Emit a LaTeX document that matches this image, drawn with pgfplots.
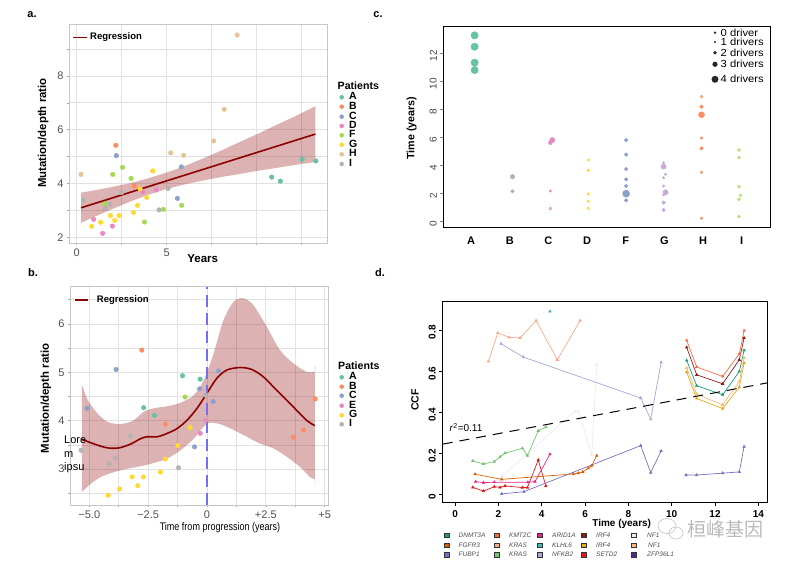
\documentclass[border=0pt]{standalone}
\usepackage{fontspec}
\setmainfont{Liberation Sans}
\newfontfamily\cjk{Noto Sans CJK SC}
\usepackage{pgfplots}
\pgfplotsset{compat=1.18}
\newcommand\fs[1]{\fontsize{#1}{#1}\selectfont}
\definecolor{pA}{HTML}{66C2A5}
\definecolor{pB}{HTML}{FC8D62}
\definecolor{pC}{HTML}{8DA0CB}
\definecolor{pD}{HTML}{E78AC3}
\definecolor{pE}{HTML}{E78AC3}
\definecolor{pF}{HTML}{A6D854}
\definecolor{pG}{HTML}{FFD92F}
\definecolor{pH}{HTML}{E5C494}
\definecolor{pI}{HTML}{B3B3B3}
\definecolor{cG}{HTML}{C8A8D8}
\definecolor{reg}{HTML}{8B0000}
\definecolor{tickgray}{HTML}{505050}
\definecolor{gridc}{HTML}{E2E2E2}
\definecolor{dDNMT}{HTML}{1B9E77}
\definecolor{dFGFR}{HTML}{D95F02}
\definecolor{dFUBP}{HTML}{7B6FC0}
\definecolor{dKMT}{HTML}{F46D43}
\definecolor{dKRASs}{HTML}{F9A98B}
\definecolor{dKRASg}{HTML}{74C476}
\definecolor{dARID}{HTML}{E7298A}
\definecolor{dKLHL}{HTML}{41B6C4}
\definecolor{dNFKB}{HTML}{A9A5D4}
\definecolor{dIRFr}{HTML}{8E1B1B}
\definecolor{dIRFg}{HTML}{E6A817}
\definecolor{dSETD}{HTML}{E31A1C}
\definecolor{dNFw}{HTML}{ECEAF6}
\definecolor{dNFo}{HTML}{FDB873}
\definecolor{dZFP}{HTML}{54278F}
\pgfplotsset{
  ptsA/.style={only marks, mark=*, mark size=2.3pt},
  ggaxis/.style={scale only axis, anchor=south west, grid=major,
    major grid style={draw=gridc, line width=0.8pt},
    axis line style={draw=gray!45, line width=0.8pt},
    tick style={draw=gray!70, line width=0.6pt}, tick align=outside, major tick length=2pt,
    tick pos=left,
    ticklabel style={font=\fs{11}, text=tickgray},
    /pgf/number format/assume math mode=true},
  cpts/.style={only marks, mark=*, mark size=#1},
  hpts/.style={only marks, mark=o, mark size=1.3pt, mark options={line width=0.7pt}},
  dl/.style={color=#1, line width=0.7pt, mark=triangle*, mark size=1.3pt, mark options={solid}},
}
\begin{document}
\begin{tikzpicture}
\path[use as bounding box] (0pt,0pt) rectangle (789pt,564pt);

% ---------------- panel a ----------------
\begin{axis}[ggaxis, at={(69pt,320.7pt)}, width=258pt, height=219.3pt,
  xmin=-0.43, xmax=13.9, ymin=1.78, ymax=9.93,
  xtick={0,2.5,5,7.5,10,12.5}, xticklabels={0,,5,,,},
  ytick={2,3,4,5,6,7,8,9}, yticklabels={2,,4,,6,,8,}]
\addplot[ptsA, pA] coordinates {(10.83,4.24)(11.31,4.09)(12.52,4.90)(13.28,4.84)};
\addplot[ptsA, pB] coordinates {(2.17,5.42)(3.20,3.91)};
\addplot[ptsA, pC] coordinates {(2.20,5.04)(5.59,3.45)(5.81,4.62)};
\addplot[ptsA, pD] coordinates {(0.94,2.67)(1.44,2.15)(1.98,2.42)(3.67,3.69)(4.41,3.76)};
\addplot[ptsA, pF] coordinates {(1.54,3.24)(2.00,4.34)(2.54,4.60)(3.02,4.19)(3.76,2.57)(4.81,3.04)(5.83,3.19)};
\addplot[ptsA, pG] coordinates {(0.83,2.41)(1.33,2.56)(1.87,2.81)(2.11,2.63)(2.35,2.81)(3.15,2.92)(3.37,3.19)(3.52,3.80)(3.89,3.48)(4.22,4.47)};
\addplot[ptsA, pH] coordinates {(0.24,4.34)(5.22,5.14)(5.94,5.05)(7.61,5.58)(8.19,6.76)(8.91,9.52)};
\addplot[ptsA, pI] coordinates {(0.37,3.38)(1.59,3.08)(1.85,3.23)(2.50,3.67)(4.57,3.02)(5.07,3.82)};
\addplot[fill=reg, fill opacity=0.3, draw=none] coordinates {(0.24,3.66)(1,3.75)(2,3.88)(3,4.02)(4,4.20)(5,4.41)(6,4.65)(7,4.93)(8,5.22)(9,5.53)(10,5.83)(11,6.15)(12,6.46)(13.26,6.88)
 (13.26,4.80)(12,4.68)(11,4.57)(10,4.47)(9,4.35)(8,4.24)(7,4.11)(6,3.97)(5,3.80)(4,3.59)(3,3.34)(2,3.06)(1,2.77)(0.24,2.54)} -- cycle;
\addplot[reg, line width=1.6pt] coordinates {(0.24,3.10)(13.26,5.84)};
\end{axis}

% ---------------- panel b ----------------
\begin{axis}[ggaxis, at={(70pt,59pt)}, width=258pt, height=218.3pt,
  xmin=-5.82, xmax=5.14, ymin=2.26, ymax=6.77,
  xtick={-5,-3.75,-2.5,-1.25,0,1.25,2.5,3.75,5}, xticklabels={−5.0\hspace{14pt},,−2.5,,0,,+2.5,,+5},
  ytick={2.5,3,3.5,4,4.5,5,5.5,6,6.5}, yticklabels={,3,,4,,5,,6,}]
\addplot[ptsA, pA] coordinates {(-2.69,4.27)(-2.23,4.11)(-1.04,4.93)(-0.29,4.86)};
\addplot[ptsA, pB] coordinates {(-2.77,5.46)(-1.77,3.93)(3.66,3.66)(4.10,3.81)(4.59,4.45)};
\addplot[ptsA, pC] coordinates {(-5.10,4.26)(-3.86,5.06)(-0.53,3.46)(-0.31,4.66)(0.26,4.40)(0.49,5.03)};
\addplot[ptsA, pE] coordinates {(-0.29,3.74)(-0.06,4.01)};
\addplot[ptsA, pF] coordinates {(-0.93,4.49)};
\addplot[ptsA, pG] coordinates {(-4.20,2.46)(-3.71,2.59)(-3.18,2.84)(-2.94,2.66)(-2.70,2.84)(-1.98,2.94)(-1.77,3.21)(-1.24,3.49)(-0.72,3.86)};
\addplot[ptsA, pI] coordinates {(-5.35,3.39)(-4.15,3.11)(-3.89,3.23)(-3.25,3.69)(-1.21,3.03)(-0.06,4.53)};
\addplot[fill=reg, fill opacity=0.3, draw=none, smooth] coordinates {(-5.32,4.76)(-5.07,4.43)(-4.65,4.15)(-4.23,3.98)(-3.73,3.93)(-3.24,3.98)(-2.96,4.07)(-2.68,4.19)(-2.25,4.26)(-1.69,4.30)(-1.13,4.37)(-0.56,4.53)(-0.14,4.84)(0.28,5.39)(0.70,6.08)(1.13,6.46)(1.55,6.53)(1.97,6.39)(2.54,5.94)(3.10,5.46)(3.66,5.19)(4.23,5.01)(4.58,5.01)(4.58,5.01)
 (4.58,2.79)(4.58,2.79)(4.37,2.84)(3.94,3.05)(3.38,3.26)(2.82,3.43)(2.25,3.53)(1.69,3.67)(1.13,3.81)(0.56,3.93)(0.14,3.96)(-0.14,3.88)(-0.56,3.63)(-1.13,3.39)(-1.69,3.22)(-2.25,3.13)(-2.82,3.06)(-3.38,3.01)(-3.94,2.94)(-4.51,2.84)(-4.93,2.70)(-5.32,2.53)(-5.32,2.53)} -- cycle;
\addplot[reg, line width=1.6pt, smooth] coordinates {(-5.32,3.62)(-4.79,3.52)(-4.23,3.44)(-3.73,3.44)(-3.24,3.52)(-2.82,3.63)(-2.54,3.67)(-2.11,3.67)(-1.69,3.74)(-1.27,3.84)(-0.85,4.01)(-0.42,4.26)(0,4.57)(0.42,4.88)(0.85,5.05)(1.41,5.10)(1.90,5.06)(2.39,4.91)(2.96,4.63)(3.66,4.29)(4.23,4.01)(4.58,3.90)};
\addplot[color={rgb,255:red,112;green,112;blue,240}, line width=1.4pt, dash pattern=on 12pt off 6pt] coordinates {(0,2.26)(0,6.77)};
\end{axis}

% ---------------- panel c ----------------
\begin{axis}[scale only axis, anchor=south west, at={(443.3pt,336.3pt)}, width=327.4pt, height=201.7pt,
  xmin=-0.72, xmax=7.75, ymin=-0.43, ymax=13.98,
  axis line style={line width=0.9pt},
  xtick={0,1,2,3,4,5,6,7}, xticklabels={A,B,C,D,F,G,H,I},
  xtick style={draw=none},
  xticklabel style={font=\bfseries\fs{11}, yshift=-3pt},
  ytick={0,2,4,6,8,10,12},
  ytick style={line width=0.6pt}, tick align=outside, major tick length=3pt, tick pos=left,
  yticklabel style={font=\fs{10}, text=black!75, rotate=90, anchor=south, xshift=-2pt},
  /pgf/number format/assume math mode=true]
\addplot[cpts=3.7pt, pA] coordinates {(0.09,13.31)(0.09,12.50)(0.09,11.36)(0.09,10.83)};
\addplot[cpts=2.3pt, pI] coordinates {(1.07,3.21)};
\addplot[cpts=1.8pt, pI] coordinates {(1.07,2.17)};
\addplot[cpts=2.6pt, pD] coordinates {(2.10,5.83)};
\addplot[cpts=2.0pt, pD] coordinates {(2.05,5.64)};
\addplot[cpts=1.2pt, pD] coordinates {(2.05,2.19)};
\addplot[hpts, pD] coordinates {(2.05,0.93)};
\addplot[cpts=1.3pt, pG] coordinates {(3.03,4.40)(3.03,3.67)(3.03,1.98)(3.03,1.45)};
\addplot[hpts, pG] coordinates {(3.03,0.95)};
\addplot[cpts=1.8pt, pC] coordinates {(4.01,5.83)(4.01,4.79)(4.01,3.76)(4.01,3.02)(4.01,2.55)(4.01,1.52)};
\addplot[cpts=3.6pt, pC] coordinates {(4.01,2.00)};
\addplot[cpts=1.2pt, cG] coordinates {(4.98,4.21)(5.03,3.38)(4.98,3.14)(4.98,2.55)(4.98,1.90)};
\addplot[cpts=1.8pt, cG] coordinates {(4.98,1.36)(4.98,0.83)};
\addplot[cpts=2.6pt, cG] coordinates {(4.98,3.93)(5.03,2.10)};
\addplot[cpts=1.8pt, pB] coordinates {(5.96,8.21)(5.96,5.24)};
\addplot[cpts=3.0pt, pB] coordinates {(5.96,7.64)};
\addplot[cpts=1.3pt, pB] coordinates {(5.96,5.98)(5.96,0.24)};
\addplot[hpts, pB] coordinates {(5.96,8.93)(5.96,3.52)};
\addplot[hpts, pF] coordinates {(6.93,5.12)(6.93,4.57)(6.93,2.50)(6.97,1.88)(6.93,1.60)(6.93,0.36)};
\end{axis}

% ---------------- panel d ----------------
\begin{axis}[scale only axis, anchor=south west, at={(442.7pt,61.3pt)}, width=325pt, height=201.4pt,
  xmin=-0.57, xmax=14.43, ymin=-0.0375, ymax=0.941,
  axis line style={line width=1.4pt},
  xtick={0,2,4,6,8,10,12,14}, ytick={0,0.2,0.4,0.6,0.8},
  yticklabels={0,0.2,0.4,0.6,0.8},
  tick style={line width=1pt, black}, tick align=outside, major tick length=3.5pt, tick pos=left,
  xticklabel style={font=\bfseries\fs{10}, yshift=-1pt},
  yticklabel style={font=\bfseries\fs{10}, rotate=90, anchor=south, xshift=-2pt},
  /pgf/number format/assume math mode=true]
\addplot[dl=dNFw] coordinates {(2.15,0.089)(5.54,0.406)(5.69,0.406)(6.31,0.195)(6.54,0.633)};
\addplot[dl=dKRASs] coordinates {(1.54,0.649)(1.97,0.787)(2.49,0.766)(3.00,0.763)(3.74,0.847)(4.72,0.657)(5.77,0.847)};
\addplot[dl=dKLHL, only marks] coordinates {(4.38,0.892)};
\addplot[dl=dNFKB] coordinates {(2.12,0.735)(3.15,0.670)(8.57,0.471)(9.03,0.368)(9.51,0.644)};
\addplot[dl=dKRASg] coordinates {(0.82,0.166)(1.31,0.151)(1.81,0.162)(2.08,0.186)(2.31,0.203)(3.11,0.227)(3.34,0.191)(3.84,0.312)(4.19,0.330)};
\addplot[dl=dFGFR] coordinates {(0.92,0.101)(2.15,0.076)(5.46,0.102)(5.69,0.106)(5.89,0.112)(6.15,0.130)(6.31,0.143)(6.54,0.191)};
\addplot[dl=dARID] coordinates {(0.95,0.065)(1.31,0.060)(1.81,0.062)(3.36,0.062)(3.69,0.065)(4.38,0.198)};
\addplot[dl=dSETD] coordinates {(0.82,0.037)(1.31,0.019)(1.81,0.040)(2.08,0.037)(2.31,0.044)(3.11,0.036)(3.34,0.036)(3.84,0.170)(4.19,0.044)};
\addplot[dl=dFUBP] coordinates {(2.15,0.005)(3.18,0.016)(8.57,0.240)(9.03,0.109)(9.51,0.214)};
\addplot[dl=dFUBP] coordinates {(10.66,0.097)(11.15,0.097)(12.35,0.106)(13.12,0.112)(13.34,0.235)};
\addplot[dl=dIRFg] coordinates {(10.69,0.597)(11.15,0.469)(12.35,0.420)(13.12,0.524)(13.34,0.641)};
\addplot[dl=dNFo] coordinates {(10.69,0.617)(11.15,0.490)(12.35,0.438)(13.12,0.552)(13.34,0.666)};
\addplot[dl=dDNMT] coordinates {(10.69,0.654)(11.15,0.531)(12.35,0.487)(13.12,0.600)(13.34,0.703)};
\addplot[dl=dIRFr] coordinates {(10.69,0.717)(11.15,0.584)(12.35,0.540)(13.12,0.657)(13.34,0.763)};
\addplot[dl=dKMT] coordinates {(10.69,0.751)(11.15,0.622)(12.35,0.576)(13.12,0.686)(13.34,0.798)};
\addplot[black, line width=1pt, dash pattern=on 10pt off 7pt] coordinates {(-0.57,0.247)(14.43,0.545)};
\end{axis}

% ---------------- annotations ----------------
\begin{scope}[x=1pt,y=1pt]
\node[font=\bfseries\fs{11}] at (32,549) {a.};
\node[font=\bfseries\fs{11}] at (33,291) {b.};
\node[font=\bfseries\fs{11}] at (378,549) {c.};
\node[font=\bfseries\fs{11}] at (380,291) {d.};
% panel a labels
\node[font=\bfseries\fs{11.4}, rotate=90] at (43.3,431) {Mutation/depth ratio};
\node[font=\bfseries\fs{11.5}] at (202.7,305.7) {Years};
\draw[reg, line width=1.1pt] (73.3,526.7) -- (87.3,526.7);
\node[font=\bfseries\fs{9.5}, anchor=west, inner sep=0pt] at (90,526.7) {Regression};
\node[font=\bfseries\fs{10.6}, anchor=west, inner sep=0pt] at (337.5,478.7) {Patients};
\foreach \c/\l/\yy in {pA/A/466.7, pB/B/457.3, pC/C/447.3, pD/D/438, pF/F/428.7, pG/G/419.3, pH/H/409.7, pI/I/400}{
  \fill[\c] (341.7,\yy) circle (2.3);
  \node[font=\bfseries\fs{10.5}, anchor=west, inner sep=0pt] at (349,\yy+1.2) {\l};
}
% panel b labels
\node[font=\bfseries\fs{11.4}, rotate=90] at (46,165.7) {Mutation/depth ratio};
\node[font=\fs{11}] at (220,36.7) {\scalebox{0.82}[1]{Time from progression (years)}};
\draw[reg, line width=1.1pt] (75,264) -- (88.3,264);
\node[font=\bfseries\fs{9.5}, anchor=west, inner sep=0pt] at (96.7,264) {Regression};
\node[font=\bfseries\fs{10.6}, anchor=west, inner sep=0pt] at (338,198) {Patients};
\foreach \c/\l/\yy in {pA/A/186.7, pB/B/177.3, pC/C/168.3, pE/E/158.3, pG/G/148.7, pI/I/139.7}{
  \fill[\c] (341.7,\yy) circle (2.3);
  \node[font=\bfseries\fs{10.5}, anchor=west, inner sep=0pt] at (349,\yy+1.2) {\l};
}
\node[font=\fs{11}, anchor=north west, align=left, inner sep=0pt] at (64,128) {Lore\\[2.5pt]m\\[2.5pt]ipsu};
% panel c labels
\node[font=\bfseries\fs{10.7}, rotate=90] at (411.7,435.7) {Time (years)};
\foreach \r/\t/\yy in {1.3/0 driver/531.3, 1.1/1 drivers/522, 1.9/2 drivers/511.3, 2.6/3 drivers/499.7, 3.5/4 drivers/484.7}{
  \fill[black!85] (715,\yy) circle (\r);
  \node[font=\fs{10.2}, anchor=west, inner sep=0pt] at (720.5,\yy) {\scalebox{1.1}[1]{\t}};
}
% panel d labels
\node[font=\bfseries\fs{10.5}, rotate=90] at (415,164) {CCF};
\node[font=\bfseries\fs{10}] at (621.7,39.7) {Time (years)};
\node[font=\fs{10}] at (466,136.3) {\textit{r}\textsuperscript{2}=0.11};
\foreach \c/\t/\xx/\tx/\yy in {
  dDNMT/DNMT3A/446.7/458.5/28.5, dFGFR/FGFR3/446.7/458.5/18.7, dFUBP/FUBP1/446.7/458.5/9.3,
  dKMT/KMT2C/496.7/509/28.5, dKRASs/KRAS/496.7/509/18.7, dKRASg/KRAS/496.7/509/9.3,
  dARID/ARID1A/540/552/28.5, dKLHL/KLHL6/540/552/18.7, dNFKB/NFKB2/540/552/9.3,
  dIRFr/IRF4/583.3/596/28.5, dIRFg/IRF4/583.3/596/18.7, dSETD/SETD2/583.3/596/9.3,
  dNFw/NF1/633.3/647/28.5, dNFo/NF1/633.3/648/18.7, dZFP/ZFP36L1/633.3/647/9.3}{
  \filldraw[fill=\c, draw=black!80, line width=0.4pt] (\xx-2.4,\yy-2.2) rectangle (\xx+2.4,\yy+2.2);
  \node[font=\itshape\fs{6.5}, text=black!70, anchor=west, inner sep=0pt] at (\tx,\yy) {\t};
}
% watermark
\draw[gray!45, line width=0.7pt] (667,38) ellipse (9 and 7.5);
\draw[gray!45, line width=0.7pt] (676,31) ellipse (7 and 6);
\node[font=\cjk\fs{19}, text=gray!55, anchor=west, inner sep=0pt] at (687,35) {桓峰基因};
\end{scope}
\end{tikzpicture}
\end{document}
